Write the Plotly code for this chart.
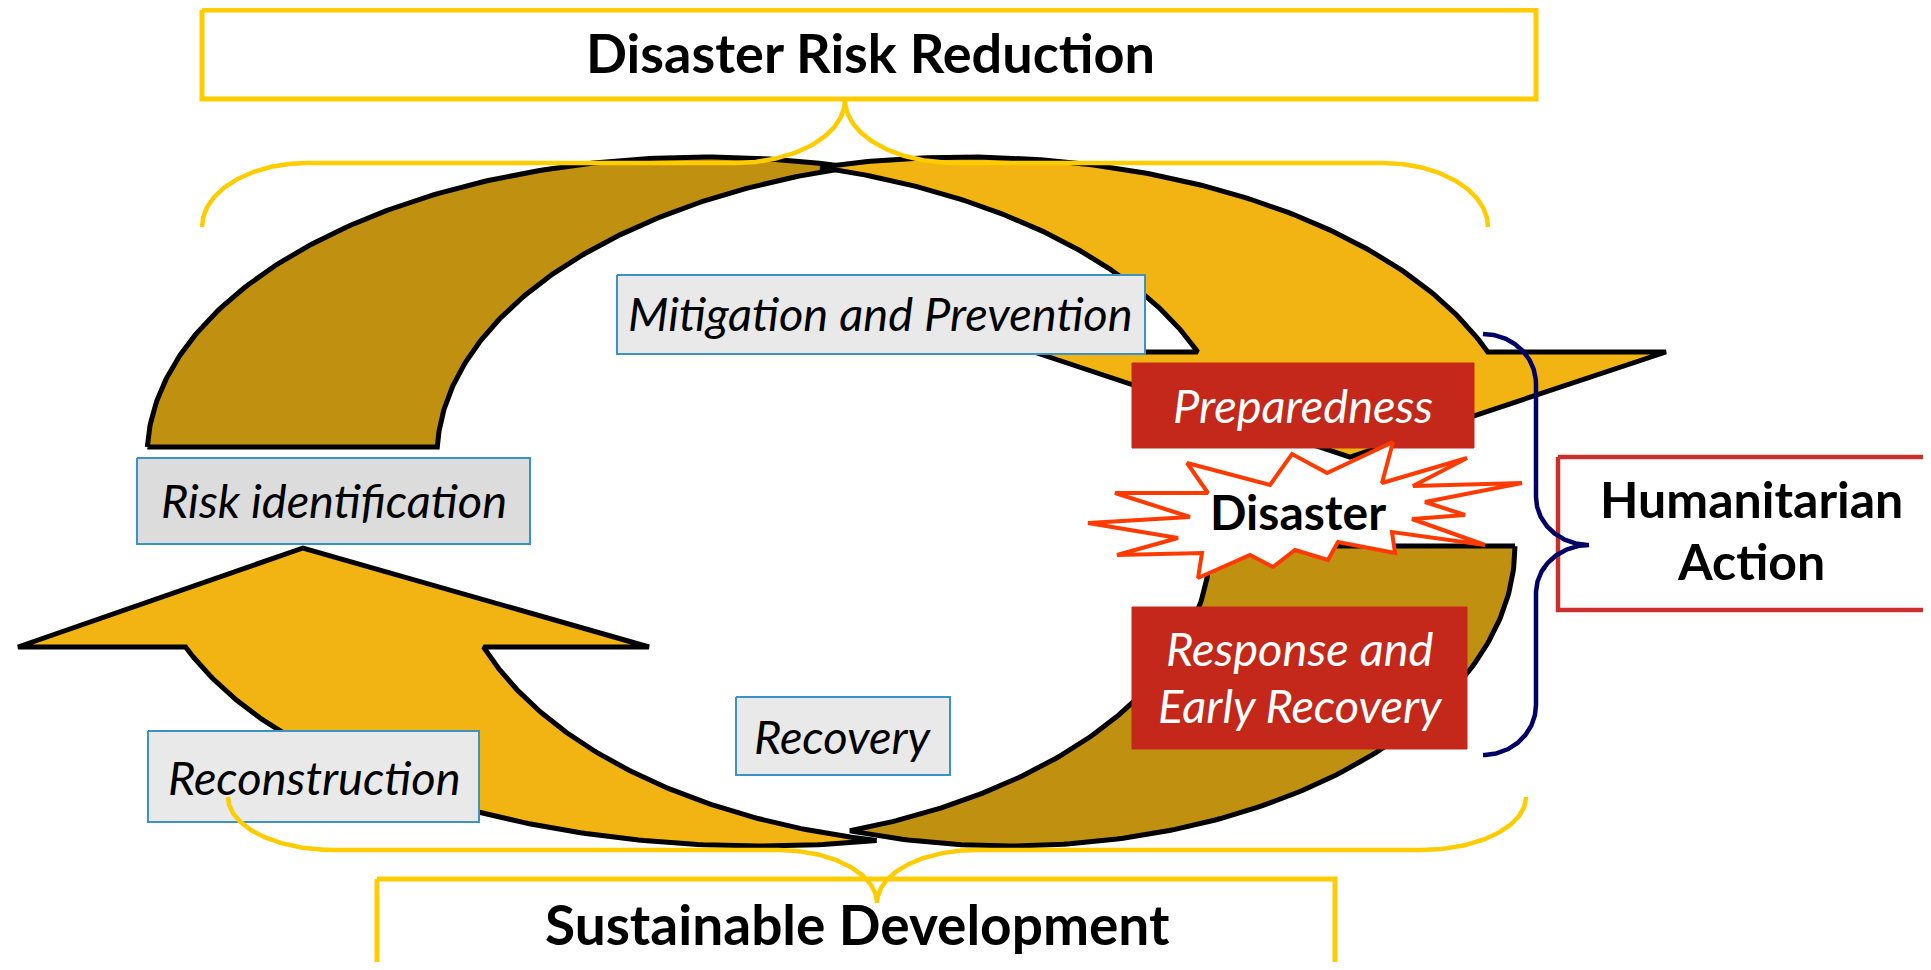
import numpy as np
import plotly.graph_objects as go

W, H = 1931, 970
OFF = 8  # default page margin around the plot div

# ---------------- text content ----------------
top_title = "Disaster Risk Reduction"
bottom_title = "Sustainable Development"
side_title_lines = ["Humanitarian", "Action"]
grey_labels = ["Mitigation and Prevention", "Risk identification", "Reconstruction", "Recovery"]
red_label_lines = [["Preparedness"], ["Response and", "Early Recovery"]]
burst_label = "Disaster"

# ---------------- colours ----------------
DARK_GOLD = "#C09010"
LIGHT_GOLD = "#F1B413"
BRACE_GOLD = "#FFCC00"
NAVY = "#000066"
RED_FILL = "#C4281A"
RED_LINE = "#C9302C"
BURST = "#FF3A00"
GREY_FILLS = ["#E9E9E9", "#DCDCDC", "#E9E9E9", "#E9E9E9"]
GREY_LINE = "#3A93C3"
FONT = "Lato"
OUTLINE = 5

# ---------------- geometry (page pixel space, y downwards) ----------------
grey_boxes = [(617, 275, 1145, 354), (137, 458, 530, 544), (148, 731, 479, 822), (736, 697, 950, 775)]
grey_text_pos = [(880, 315), (334, 502), (314, 779), (843, 738)]   # cap-centre targets
red_boxes = [(1132, 363, 1474, 448), (1132, 607, 1467, 749)]
red_text_pos = [[(1303, 407)], [(1300, 650), (1300, 707)]]
top_box = (202, 10, 1536, 99)
bottom_box = (377, 879, 1335, 985)
side_box = (1558, 457, 1950, 610)
burst_pts = [(1393, 442), (1382, 483), (1467, 458), (1413, 486), (1522, 483), (1425, 502),
             (1465, 515), (1412, 519), (1485, 545), (1392, 532), (1395, 553), (1338, 542),
             (1328, 560), (1295, 550), (1273, 567), (1250, 555), (1198, 578), (1202, 553),
             (1117, 555), (1178, 538), (1088, 523), (1190, 517), (1115, 493), (1208, 493),
             (1187, 463), (1270, 485), (1292, 454), (1327, 473)]


def arc(cx, cy, rx, ry, a0, a1, down=False, n=160):
    a = np.linspace(a0, a1, n)
    x = cx + rx * np.cos(a)
    y = cy + ry * np.sin(a) if down else cy - ry * np.sin(a)
    return list(x), list(y)


def cross_x(c1, r1, c2, r2):
    # x where two ellipses (same cy, ry) with centres c1 < c2 cross between them
    return (c1 * r2 + c2 * r1) / (r1 + r2)


def rect(b):
    x0, y0, x1, y1 = b
    return [x0, x1, x1, x0, x0], [y0, y0, y1, y1, y0]


traces = []


def poly(xs, ys, fill, line_color, lw):
    traces.append(go.Scatter(x=xs, y=ys, mode="lines", fill="toself", fillcolor=fill,
                             line=dict(color=line_color, width=lw), hoverinfo="skip"))


def path(xs, ys, color, lw):
    traces.append(go.Scatter(x=xs, y=ys, mode="lines", line=dict(color=color, width=lw),
                             hoverinfo="skip"))


# ---------- upper curved arrow (points down on the right) ----------
U_cy, U_ry, U_rx, U_th = 457, 300, 558, 290
U_cdark, U_clight = 705, 965
U_base_dark, U_base_light = 447, 352
U_wings, U_tip = (1034, 1666), (1350, 457)

# dark tail band
xm = U_cdark + U_th / 2
a_base = np.pi - np.arcsin((U_cy - U_base_dark) / U_ry)
ao = np.arccos((xm - U_cdark) / U_rx)
ai = np.arccos((xm - (U_cdark + U_th)) / U_rx)
x1, y1 = arc(U_cdark, U_cy, U_rx, U_ry, a_base, ao)
x2, y2 = arc(U_cdark + U_th, U_cy, U_rx, U_ry, ai, a_base)
poly(x1 + x2 + [x1[0]], y1 + y2 + [y1[0]], DARK_GOLD, "black", OUTLINE)

# light head band
xm = U_clight - U_th / 2
a_end = np.arcsin((U_cy - U_base_light) / U_ry)
ao = np.arccos((xm - U_clight) / U_rx)
ai = np.arccos((xm - (U_clight - U_th)) / U_rx)
x1, y1 = arc(U_clight, U_cy, U_rx, U_ry, ao, a_end)
x2, y2 = arc(U_clight - U_th, U_cy, U_rx, U_ry, a_end, ai)
hx = [U_wings[1], U_tip[0], U_wings[0]]
hy = [U_base_light, U_tip[1], U_base_light]
poly(x1 + hx + x2 + [x1[0]], y1 + hy + y2 + [y1[0]], LIGHT_GOLD, "black", OUTLINE)

# ---------- lower curved arrow (points up on the left) ----------
L_cy, L_ry = 546, 300
L_dark_out, L_dark_in = (1009, 506), (685, 525)     # (centre x, x-radius)
L_light_out, L_light_in = (760, 610), (977, 524)
L_base_light = 647
L_wings, L_tip = (18, 649), (303, 548)

xm = cross_x(L_dark_in[0], L_dark_in[1], L_dark_out[0], L_dark_out[1])
ao = np.arccos((xm - L_dark_out[0]) / L_dark_out[1])
ai = np.arccos((xm - L_dark_in[0]) / L_dark_in[1])
x1, y1 = arc(L_dark_out[0], L_cy, L_dark_out[1], L_ry, 0, ao, down=True)
x2, y2 = arc(L_dark_in[0], L_cy, L_dark_in[1], L_ry, ai, 0, down=True)
poly(x1 + x2 + [x1[0]], y1 + y2 + [y1[0]], DARK_GOLD, "black", OUTLINE)

xm = cross_x(L_light_out[0], L_light_out[1], L_light_in[0], L_light_in[1])
ao = np.arccos((xm - L_light_out[0]) / L_light_out[1])
ai = np.arccos((xm - L_light_in[0]) / L_light_in[1])
a_end = np.pi - np.arcsin((L_base_light - L_cy) / L_ry)
x1, y1 = arc(L_light_out[0], L_cy, L_light_out[1], L_ry, ao, a_end, down=True)
x2, y2 = arc(L_light_in[0], L_cy, L_light_in[1], L_ry, a_end, ai, down=True)
hx = [L_wings[0], L_tip[0], L_wings[1]]
hy = [L_base_light, L_tip[1], L_base_light]
poly(x1 + hx + x2 + [x1[0]], y1 + hy + y2 + [y1[0]], LIGHT_GOLD, "black", OUTLINE)

# ---------- boxes ----------
for b, f in zip(grey_boxes, GREY_FILLS):
    xs, ys = rect(b)
    poly(xs, ys, f, GREY_LINE, 2)
for b in red_boxes:
    xs, ys = rect(b)
    poly(xs, ys, RED_FILL, RED_FILL, 1)
xs, ys = rect(side_box)
poly(xs, ys, "white", RED_LINE, 4.5)
xs, ys = rect(top_box)
poly(xs, ys, "white", BRACE_GOLD, 5)
xs, ys = rect(bottom_box)
poly(xs, ys, "white", BRACE_GOLD, 5)

# ---------- starburst ----------
bx = [p[0] for p in burst_pts] + [burst_pts[0][0]]
by = [p[1] for p in burst_pts] + [burst_pts[0][1]]
poly(bx, by, "white", BURST, 4)

# ---------- braces ----------
def mirror(xs, ys, xc):
    return [2 * xc - v for v in reversed(xs)], list(reversed(ys))

# top gold brace
ax1, ay1 = arc(307, 227, 105, 64, np.pi, np.pi / 2)
ax2, ay2 = arc(735, 100, 110, 63, np.pi / 2, 0, down=True)
lx, ly = ax1 + ax2, ay1 + ay2
rx_, ry_ = mirror(lx, ly, 845)
path(lx + rx_, ly + ry_, BRACE_GOLD, 4.5)

# bottom gold brace
ax1, ay1 = arc(333, 797, 105, 53, np.pi, np.pi / 2, down=True)
ax2, ay2 = arc(778, 903, 99, 53, np.pi / 2, 0)
lx, ly = ax1 + ax2, ay1 + ay2
rx_, ry_ = mirror(lx, ly, 877)
path(lx + rx_, ly + ry_, BRACE_GOLD, 4.5)

# navy brace
n1x, n1y = arc(1483, 384, 53, 50, np.pi / 2, 0)
n2x, n2y = arc(1589, 497, 53, 48, np.pi, np.pi / 2, down=True)
n3x, n3y = arc(1589, 593, 53, 48, np.pi / 2, np.pi)
n4x, n4y = arc(1483, 705, 53, 50, 0, np.pi / 2, down=True)
path(n1x + n2x + n3x + n4x, n1y + n2y + n3y + n4y, NAVY, 4.5)

fig = go.Figure(traces)

# ---------- text ----------
ann = []
CAP_SHIFT = 0.05  # annotation middle sits slightly above the cap centre


def label(x, y, text, size, color="black", bold=False, italic=False):
    t = text
    if bold:
        t = "<b>" + t + "</b>"
    if italic:
        t = "<i>" + t + "</i>"
    ann.append(dict(x=x, y=y - CAP_SHIFT * size, xref="x", yref="y", text=t, showarrow=False,
                    xanchor="center", yanchor="middle",
                    font=dict(family=FONT, size=size, color=color)))


label(870, 55, top_title, 54, bold=True)
label(857, 927, bottom_title, 55, bold=True)
label(1751, 501, side_title_lines[0], 50, bold=True)
label(1751, 563, side_title_lines[1], 50, bold=True)
for t, p in zip(grey_labels, grey_text_pos):
    label(p[0], p[1], t, 47, italic=True)
for lines, poss in zip(red_label_lines, red_text_pos):
    for t, p in zip(lines, poss):
        label(p[0], p[1], t, 47, color="white", italic=True)
label(1298, 514, burst_label, 48, bold=True)

# the plot div sits inside the page's default 8px body margin, so the
# figure is shrunk by that margin and the axes offset to keep page pixels exact
fig.update_layout(
    width=W - 2 * OFF, height=H - 2 * OFF, margin=dict(l=0, r=0, t=0, b=0),
    paper_bgcolor="white", plot_bgcolor="white", showlegend=False,
    xaxis=dict(range=[OFF, W - OFF], visible=False, fixedrange=True),
    yaxis=dict(range=[H - OFF, OFF], visible=False, fixedrange=True),
    annotations=ann, hovermode=False,
)
fig.write_html("out.html")
